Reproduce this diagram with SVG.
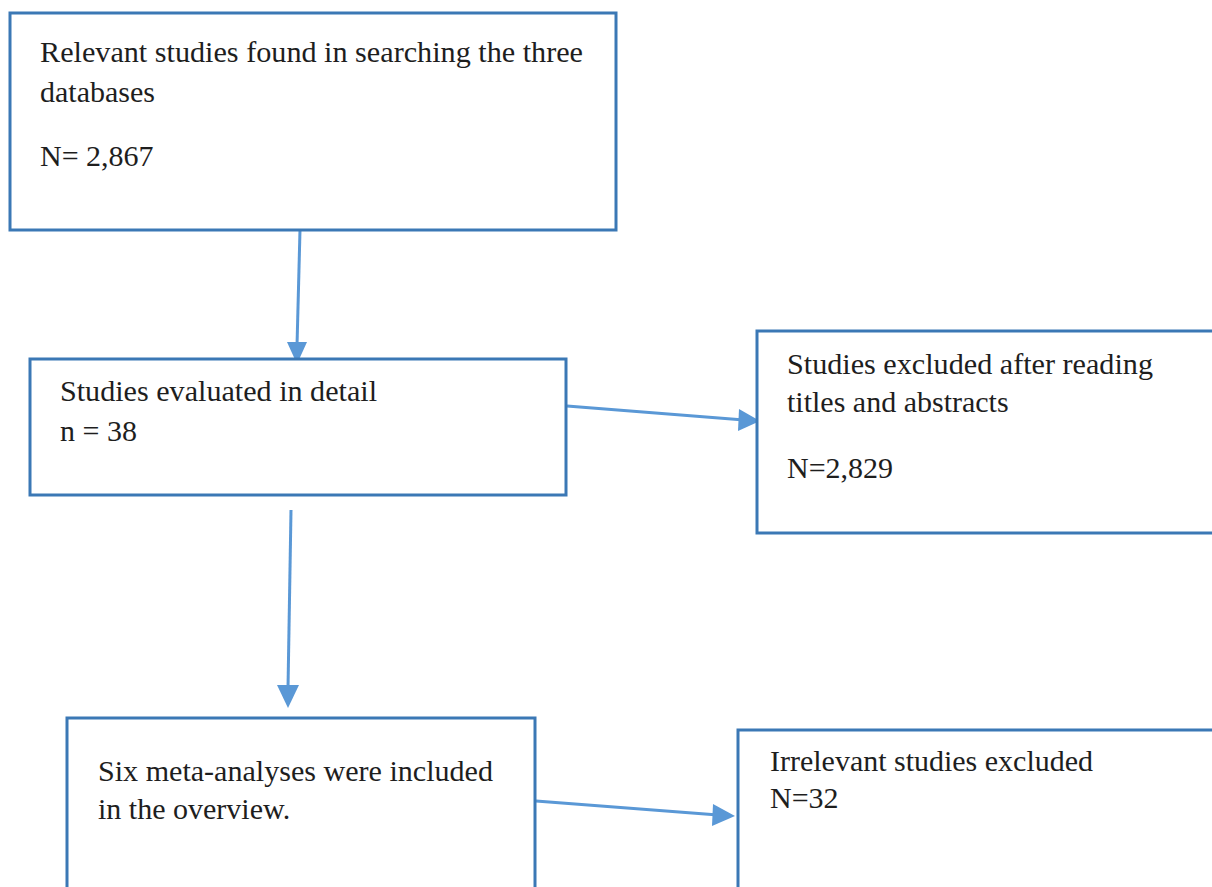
<svg xmlns="http://www.w3.org/2000/svg" width="1212" height="887" viewBox="0 0 1212 887">
<defs>
<style>
.box{fill:#ffffff;stroke:#3b78b5;stroke-width:3}
.t{font-family:"Liberation Serif","Times New Roman",serif;font-size:30px;fill:#1e1e1e}
.c{stroke:#5a98d6;stroke-width:3;fill:none}
</style>
<marker id="ah" viewBox="0 0 10 10" refX="10" refY="5" markerWidth="7" markerHeight="7" markerUnits="userSpaceOnUse" orient="auto">
<path d="M0,0 L10,5 L0,10 z" fill="#5a98d6"/>
</marker>
</defs>
<rect width="1212" height="887" fill="#ffffff"/>
<g id="connectors">
<path class="c" d="M300,230 L297,346"/>
<path d="M287,342 L307,342 L297,364 z" fill="#5a98d6"/>
<path class="c" d="M567,406 L744,420"/>
<path d="M739,409 L760,421 L738,431 z" fill="#5a98d6"/>
<path class="c" d="M291,510 L288,688"/>
<path d="M277,685 L299,685 L288,708 z" fill="#5a98d6"/>
<path class="c" d="M536,801 L718,815"/>
<path d="M713,804 L735,816 L712,826 z" fill="#5a98d6"/>
</g>
<g id="n1">
<rect class="box" x="10" y="13" width="606" height="217"/>
<text class="t" x="40" y="62" textLength="543" lengthAdjust="spacingAndGlyphs">Relevant studies found in searching the three</text>
<text class="t" x="40" y="102">databases</text>
<text class="t" x="40" y="166">N= 2,867</text>
</g>
<g id="n2">
<rect class="box" x="30" y="359" width="536" height="136"/>
<text class="t" x="60" y="401" textLength="317" lengthAdjust="spacingAndGlyphs">Studies evaluated in detail</text>
<text class="t" x="60" y="441">n = 38</text>
</g>
<g id="n3">
<rect class="box" x="757" y="331" width="460" height="202"/>
<text class="t" x="787" y="374" textLength="366" lengthAdjust="spacingAndGlyphs">Studies excluded after reading</text>
<text class="t" x="787" y="412">titles and abstracts</text>
<text class="t" x="787" y="478">N=2,829</text>
</g>
<g id="n4">
<rect class="box" x="67" y="718" width="468" height="180"/>
<text class="t" x="98" y="781" textLength="395" lengthAdjust="spacingAndGlyphs">Six meta-analyses were included</text>
<text class="t" x="98" y="819">in the overview.</text>
</g>
<g id="n5">
<rect class="box" x="738" y="730" width="480" height="170"/>
<text class="t" x="770" y="771" textLength="323" lengthAdjust="spacingAndGlyphs">Irrelevant studies excluded</text>
<text class="t" x="770" y="808">N=32</text>
</g>
</svg>
